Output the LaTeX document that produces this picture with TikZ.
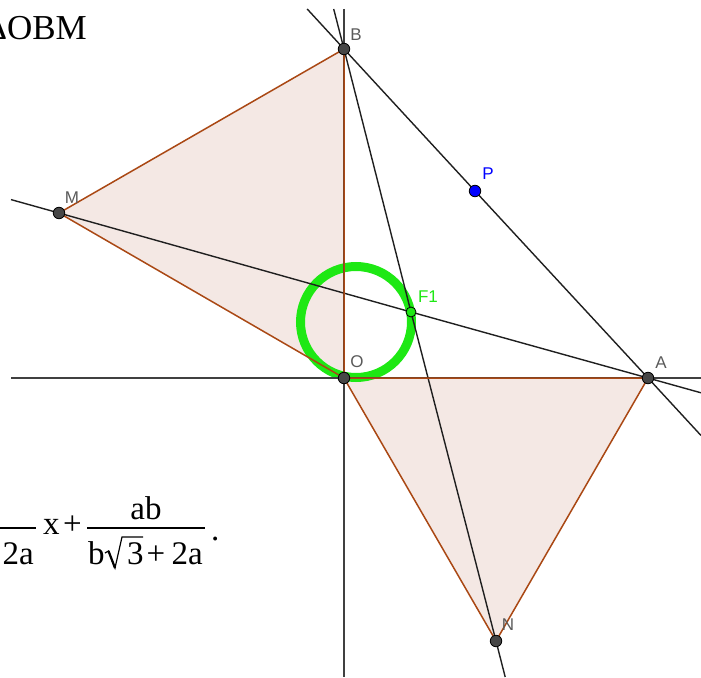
\documentclass[tikz,border=0pt]{standalone}
\usepackage{fontspec}
\setmainfont{Liberation Serif}
\newfontfamily\lblfont{Liberation Sans}
\definecolor{edgebrown}{RGB}{170,72,20}
\definecolor{trifill}{RGB}{244,232,228}
\definecolor{ringgreen}{RGB}{30,232,20}
\definecolor{ptgray}{RGB}{70,70,70}
\definecolor{lblgray}{RGB}{90,90,90}
\tikzset{
  axisline/.style={draw=black!75, line width=1.7pt},
  geoline/.style={draw=black!88, line width=1.4pt},
  triedge/.style={draw=edgebrown, line width=1.5pt},
  trishade/.style={fill=trifill},
  ptdot/.style={circle, fill=ptgray, draw=black, line width=0.8pt, inner sep=0pt, minimum size=11.5pt},
  ptlbl/.style={font=\lblfont\fontsize{17}{17}\selectfont, text=lblgray, inner sep=0pt},
  mtext/.style={font=\fontsize{33}{33}\selectfont, inner sep=0pt, anchor=base},
}
\begin{document}
\begin{tikzpicture}[x=1pt,y=-1pt]
\useasboundingbox (0,0) rectangle (701,677);
\clip (0,0) rectangle (701,677);
% points
\coordinate (O) at (344,378);
\coordinate (B) at (344,49);
\coordinate (A) at (648,378);
\coordinate (M) at (59,213);
\coordinate (N) at (496,641);
\coordinate (P) at (475,191);
\coordinate (F1) at (411,312);
% free ends of lines
\coordinate (xl) at (11,378);
\coordinate (xr) at (701,378);
\coordinate (yt) at (344,9);
\coordinate (yb) at (344,677);
\coordinate (ba1) at (307.2,9);
\coordinate (ba2) at (701,435.5);
\coordinate (ma1) at (11,199.6);
\coordinate (ma2) at (701,392.8);
\coordinate (bn1) at (333.7,9);
\coordinate (bn2) at (505.2,677);
% triangles fill
\fill[trishade] (O) -- (B) -- (M) -- cycle;
\fill[trishade] (O) -- (A) -- (N) -- cycle;
% locus circle
\draw[ringgreen, line width=9pt] (356,322) circle[radius=55.5];
% axes
\draw[axisline] (xl) -- (xr);
\draw[axisline] (yt) -- (yb);
% lines
\draw[geoline] (ba1) -- (B) -- (P) -- (A) -- (ba2);
\draw[geoline] (ma1) -- (M) -- (F1) -- (A) -- (ma2);
\draw[geoline] (bn1) -- (B) -- (F1) -- (N) -- (bn2);
% triangle edges
\draw[triedge, line join=round] (O) -- (B) -- (M) -- cycle;
\draw[triedge, line join=round] (O) -- (A) -- (N) -- cycle;
% point markers
\node[ptdot] (pO) at (O) {};
\node[ptdot] (pB) at (B) {};
\node[ptdot] (pA) at (A) {};
\node[ptdot] (pM) at (M) {};
\node[ptdot] (pN) at (N) {};
\node[ptdot, fill=blue] (pP) at (P) {};
\node[ptdot, fill=ringgreen, minimum size=10pt] (pF) at (F1) {};
% labels
\node[ptlbl] (lB) at (356,35) {B};
\node[ptlbl] (lM) at (72,198) {M};
\node[ptlbl, text=blue] (lP) at (488,174) {P};
\node[ptlbl] (lA) at (661,363) {A};
\node[ptlbl] (lN) at (508,625) {N};
\node[ptlbl] (lO) at (357,362) {O};
\node[ptlbl, text=ringgreen] (lF) at (428,297) {F1};
% text top-left
\node[font=\fontsize{35}{35}\selectfont, inner sep=0pt, anchor=base east] (tri) at (87,40) {ΔOBM};
% formula
\draw[line width=1.3pt] (0,528) -- (36,528);
\node[mtext, anchor=base east] (den1) at (34,564) {2a};
\node[mtext, anchor=base west] (xv) at (43,534) {x};
\node[mtext, anchor=base west] (plus) at (63,534) {+};
\draw[line width=1.3pt] (87,528) -- (205,528);
\node[mtext] (num2) at (146,519) {ab};
\node[mtext, anchor=base west] (den2a) at (88,564) {b};
\draw[line width=1.2pt, line join=miter] (105,553) -- (108.5,551) -- (115,568) -- (122,537) -- (143,537);
\draw[line width=2.2pt] (108.5,551) -- (115,568);
\node[mtext, anchor=base west] (den2c) at (127,564) {3};
\node[mtext, anchor=base east] (den2e) at (203,564) {2a};
\node[mtext, anchor=base] (den2d) at (156,564) {+};
\node[mtext, anchor=base west] (dot) at (211,540) {.};
\end{tikzpicture}
\end{document}
